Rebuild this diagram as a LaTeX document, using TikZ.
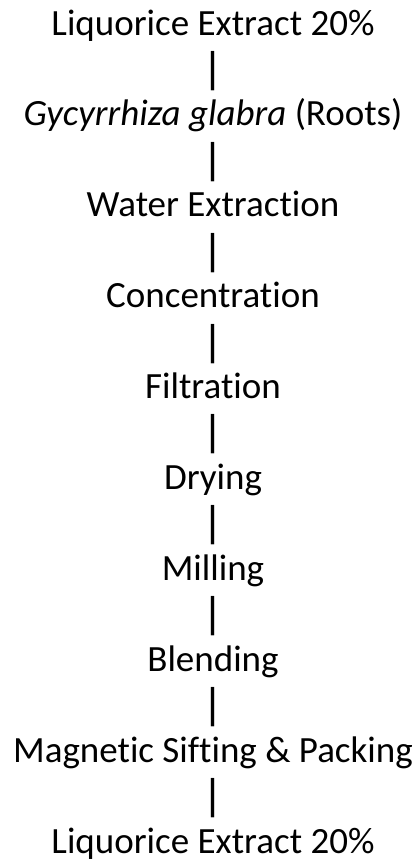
\documentclass[tikz,border=0pt]{standalone}
\usepackage{fontspec}
\setmainfont{Carlito}[Ligatures=NoCommon]
\begin{document}
\begin{tikzpicture}[x=1pt,y=1pt,
  steptext/.style={anchor=base, inner sep=0pt, font=\fontsize{37}{44}\selectfont},
  bartext/.style={anchor=center, inner sep=0pt, font=\fontsize{37}{44}\selectfont}]
\useasboundingbox (0,0) rectangle (418,-865);
\def\cx{213}
\newcommand{\barglyph}{\scalebox{1.35}[1.2]{|}}
\node[steptext] (s0) at (\cx,{-35-0*45.45}) {Liquorice Extract 20\%};
\node[bartext]  (b1) at (\cx,{-71-0*90.9}) {\barglyph};
\node[steptext] (s1) at (\cx,{-35-2*45.45}) {\textit{Gycyrrhiza glabra} (Roots)};
\node[bartext]  (b2) at (\cx,{-71-1*90.9}) {\barglyph};
\node[steptext] (s2) at (\cx,{-35-4*45.45}) {Water Extraction};
\node[bartext]  (b3) at (\cx,{-71-2*90.9}) {\barglyph};
\node[steptext] (s3) at (\cx,{-35-6*45.45}) {Concentration};
\node[bartext]  (b4) at (\cx,{-71-3*90.9}) {\barglyph};
\node[steptext] (s4) at (\cx,{-35-8*45.45}) {Filtration};
\node[bartext]  (b5) at (\cx,{-71-4*90.9}) {\barglyph};
\node[steptext] (s5) at (\cx,{-35-10*45.45}) {Drying};
\node[bartext]  (b6) at (\cx,{-71-5*90.9}) {\barglyph};
\node[steptext] (s6) at (\cx,{-35-12*45.45}) {Milling};
\node[bartext]  (b7) at (\cx,{-71-6*90.9}) {\barglyph};
\node[steptext] (s7) at (\cx,{-35-14*45.45}) {Blending};
\node[bartext]  (b8) at (\cx,{-71-7*90.9}) {\barglyph};
\node[steptext] (s8) at (\cx,{-35-16*45.45}) {Magnetic Sifting \& Packing};
\node[bartext]  (b9) at (\cx,{-71-8*90.9}) {\barglyph};
\node[steptext] (s9) at (\cx,{-35-18*45.45}) {Liquorice Extract 20\%};
\end{tikzpicture}
\end{document}
